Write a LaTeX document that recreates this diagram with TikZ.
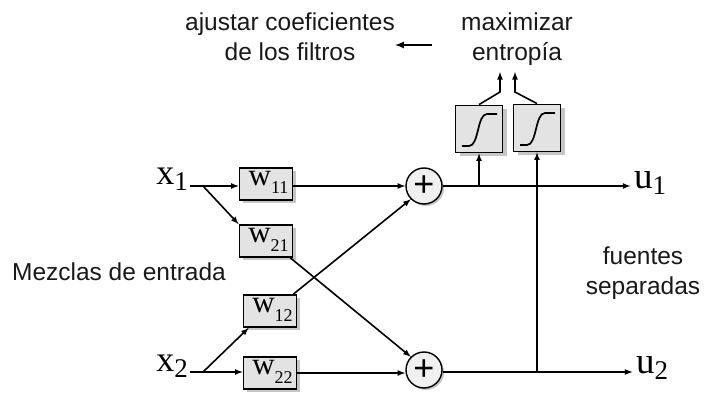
\documentclass[tikz,border=0pt]{standalone}
\usepackage{fontspec}
\setmainfont{Liberation Sans}
\newfontfamily\wfont{Liberation Serif}
\usetikzlibrary{shadows}
\newcommand{\xlabel}[2]{{\wfont\fontsize{#1}{#1}\selectfont x\raisebox{-6pt}{\fontsize{27}{27}\selectfont #2}}}
\newcommand{\ulabel}[1]{{\wfont\fontsize{37}{37}\selectfont u\raisebox{-6pt}{\fontsize{27}{27}\selectfont #1}}}
\newcommand{\wlabel}[1]{{\wfont\fontsize{31}{31}\selectfont\hspace{5pt}\raisebox{4pt}{w}\raisebox{-5pt}{\fontsize{18}{18}\selectfont #1}}}
\tikzset{
	wbox/.style={draw,line width=1.7pt,fill=gray!22,minimum width=53pt,minimum height=32pt,text height=14pt,text depth=4pt,inner sep=0pt,
		drop shadow={shadow xshift=3pt,shadow yshift=-3pt,fill=gray!45,opacity=1}},
	sigbox/.style={draw,line width=1.8pt,fill=gray!22,minimum width=47pt,minimum height=47pt,inner sep=0pt,
		drop shadow={shadow xshift=4pt,shadow yshift=-4pt,fill=gray!45,opacity=1}},
	sumnode/.style={circle,draw,line width=1.4pt,fill=gray!12,minimum size=36pt,inner sep=0pt,font=\fontsize{36}{36}\selectfont,
		drop shadow={shadow xshift=2pt,shadow yshift=-2pt,fill=gray!45,opacity=1}},
	label/.style={font=\fontsize{24.5}{30}\selectfont,align=center,text=black!90},
	conn/.style={line width=1.6pt,-latex}
}
\begin{document}
\begin{tikzpicture}[x=1pt,y=-1pt]
	\useasboundingbox (0,0) rectangle (704,393);
	% texts
	\node[label] (ajustar) at (290,37) {ajustar coeficientes\\de los filtros};
	\node[label] (maximizar) at (517,39) {maximizar\\entropía};
	\node[label] (mezclas) at (119,272) {Mezclas de entrada};
	\node[label] (fuentes) at (643,273) {fuentes\\separadas};
	% inputs and outputs
	\node (x1) at (172,179) {\xlabel{36}{1}};
	\node (x2) at (172,366) {\xlabel{36}{2}};
	\node (u1) at (650,183) {\ulabel{1}};
	\node (u2) at (652,368) {\ulabel{2}};
	% gains
	\node[wbox] (w11) at (266,184) {\wlabel{11}};
	\node[wbox] (w21) at (266,241) {\wlabel{21}};
	\node[wbox] (w12) at (270,311) {\wlabel{12}};
	\node[wbox] (w22) at (270,373) {\wlabel{22}};
	% adders
	\node[sumnode] (sum1) at (424,186) {+};
	\node[sumnode] (sum2) at (424,370) {+};
	% sigmoids
	\node[sigbox] (sig1) at (479,129) {};
	\node[sigbox] (sig2) at (537,128) {};
	\foreach \s in {sig1,sig2}
		\draw[line width=1.7pt] ([shift={(-17pt,-17pt)}]\s.center) -- ([shift={(-10pt,-17pt)}]\s.center) .. controls ([shift={(0pt,-17pt)}]\s.center) and ([shift={(-2pt,15pt)}]\s.center) .. ([shift={(8pt,15pt)}]\s.center) -- ([shift={(18pt,15pt)}]\s.center);
	% branch points
	\coordinate (x1out) at (190,186);
	\coordinate (x2out) at (190,372);
	\coordinate (b1) at (203,186);
	\coordinate (b2) at (203,372);
	\coordinate (tap1) at (479,186);
	\coordinate (tap2) at (537,372);
	\coordinate (end1) at (500,72);
	\coordinate (end2) at (515,72);
	\coordinate (bend1) at (500,92);
	\coordinate (bend2) at (515,92);
	\coordinate (backtail) at (432,45);
	\coordinate (backtip) at (395,45);
	% connectors
	\draw[conn] (x1out) -- (w11.west |- x1out);
	\draw[conn] (b1) -- (w21.north west);
	\draw[conn] (x2out) -- (w22.west |- x2out);
	\draw[conn] (b2) -- ([xshift=6pt]w12.south west);
	\draw[conn] (w11.east |- sum1) -- (sum1.west);
	\draw[conn] (w22.east) -- (sum2.west |- w22.east);
	\draw[conn] ([xshift=-3pt]w21.south east) -- (sum2.north west);
	\draw[conn] ([xshift=-4pt]w12.north east) -- (sum1.south west);
	\draw[conn] (sum1.east) -- (u1.west |- sum1);
	\draw[conn] (sum2.east |- tap2) -- (u2.west |- tap2);
	\draw[conn] (tap1) -- (sig1.south);
	\draw[conn] (tap2) -- (sig2.south);
	\draw[conn] (sig1.north) -- (bend1) -- (end1);
	\draw[conn] (sig2.north) -- (bend2) -- (end2);
	\draw[conn,line width=2pt] (backtail) -- (backtip);
\end{tikzpicture}
\end{document}
